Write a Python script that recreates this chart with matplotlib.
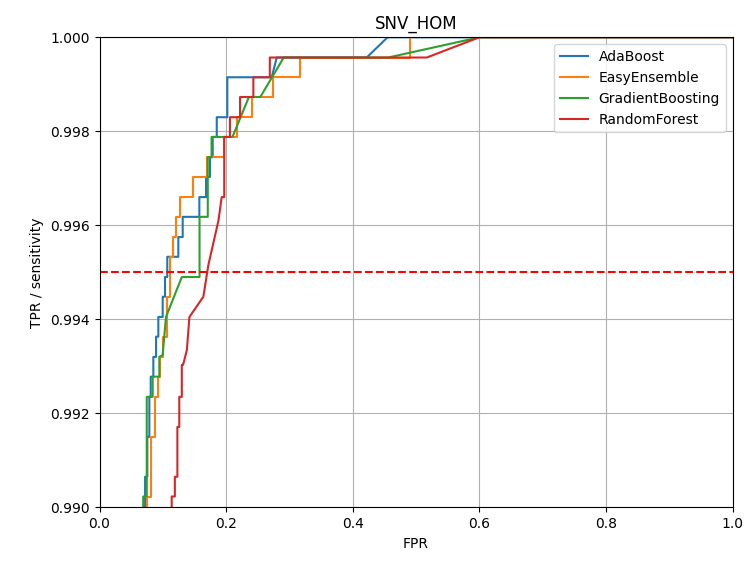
import matplotlib
matplotlib.use("Agg")
import matplotlib.pyplot as plt

title = "SNV_HOM"
threshold = 0.995

ada_fpr = [0.072, 0.072, 0.0755, 0.0755, 0.0787, 0.0787, 0.0809, 0.0809, 0.085, 0.085,
           0.0893, 0.0893, 0.0929, 0.0929, 0.0998, 0.0998, 0.1035, 0.1035, 0.107, 0.107,
           0.1245, 0.1245, 0.1314, 0.1314, 0.1577, 0.1577, 0.1683, 0.1683, 0.1746, 0.1746,
           0.1788, 0.1788, 0.1852, 0.1852, 0.2019, 0.2019, 0.272, 0.280, 0.422, 0.455, 1.0]
ada_tpr = [0.9890, 0.99065, 0.99065, 0.99150, 0.99150, 0.99235, 0.99235, 0.99278, 0.99278, 0.99320,
           0.99320, 0.99363, 0.99363, 0.99405, 0.99405, 0.99448, 0.99448, 0.99490, 0.99490, 0.99533,
           0.99533, 0.99575, 0.99575, 0.99618, 0.99618, 0.99660, 0.99660, 0.99703, 0.99703, 0.99745,
           0.99745, 0.99788, 0.99788, 0.99830, 0.99830, 0.99915, 0.99915, 0.99957, 0.99957, 1.0, 1.0]

easy_fpr = [0.0746, 0.0746, 0.081, 0.081, 0.0877, 0.0877, 0.093, 0.093, 0.0956, 0.0956,
            0.1008, 0.1008, 0.1071, 0.1071, 0.111, 0.111, 0.1166, 0.1166, 0.121, 0.121,
            0.127, 0.127, 0.148, 0.148, 0.170, 0.170, 0.196, 0.196, 0.2167, 0.2167,
            0.2405, 0.2405, 0.2746, 0.2746, 0.3165, 0.3165, 0.4905, 0.4905, 1.0]
easy_tpr = [0.9890, 0.99023, 0.99023, 0.99150, 0.99150, 0.99235, 0.99235, 0.99278, 0.99278, 0.99320,
            0.99320, 0.99363, 0.99363, 0.99448, 0.99448, 0.99533, 0.99533, 0.99575, 0.99575, 0.99618,
            0.99618, 0.99660, 0.99660, 0.99703, 0.99703, 0.99745, 0.99745, 0.99788, 0.99788, 0.99830,
            0.99830, 0.99873, 0.99873, 0.99915, 0.99915, 0.99957, 0.99957, 1.0, 1.0]

gb_fpr = [0.069, 0.069, 0.0746, 0.0746, 0.084, 0.084, 0.0945, 0.0945, 0.0997, 0.105,
          0.130, 0.158, 0.158, 0.171, 0.171, 0.177, 0.177, 0.210, 0.236, 0.254,
          0.291, 0.456, 0.600, 1.0]
gb_tpr = [0.9890, 0.99023, 0.99023, 0.99235, 0.99235, 0.99278, 0.99278, 0.99320, 0.99324, 0.99405,
          0.99490, 0.99490, 0.99618, 0.99618, 0.99745, 0.99745, 0.99788, 0.99788, 0.99873, 0.99873,
          0.99957, 0.99957, 1.0, 1.0]

rf_fpr = [0.114, 0.114, 0.119, 0.119, 0.123, 0.123, 0.126, 0.126, 0.130, 0.130,
          0.132, 0.138, 0.142, 0.164, 0.172, 0.188, 0.193, 0.197, 0.197, 0.206,
          0.206, 0.222, 0.222, 0.243, 0.243, 0.269, 0.269, 0.517, 0.600, 1.0]
rf_tpr = [0.9890, 0.99023, 0.99023, 0.99065, 0.99065, 0.99171, 0.99171, 0.99235, 0.99235, 0.99303,
          0.99303, 0.99335, 0.99405, 0.99448, 0.99516, 0.99611, 0.99660, 0.99660, 0.99788, 0.99788,
          0.99830, 0.99830, 0.99873, 0.99873, 0.99915, 0.99915, 0.99957, 0.99957, 1.0, 1.0]

fig = plt.figure(figsize=(7.46, 5.61), dpi=100)
ax = fig.add_axes([0.1334, 0.0957, 0.8486, 0.8378])
ax.plot(ada_fpr, ada_tpr, label="AdaBoost", color="#1f77b4")
ax.plot(easy_fpr, easy_tpr, label="EasyEnsemble", color="#ff7f0e")
ax.plot(gb_fpr, gb_tpr, label="GradientBoosting", color="#2ca02c")
ax.plot(rf_fpr, rf_tpr, label="RandomForest", color="#d62728")
ax.axhline(threshold, color="red", linestyle="--")
ax.set_xlim(0, 1)
ax.set_ylim(0.990, 1.000)
ax.grid(True)
ax.set_title(title)
ax.set_xlabel("FPR")
ax.set_ylabel("TPR / sensitivity")
ax.legend(loc="upper right")
fig.savefig("out.png", dpi=100)
